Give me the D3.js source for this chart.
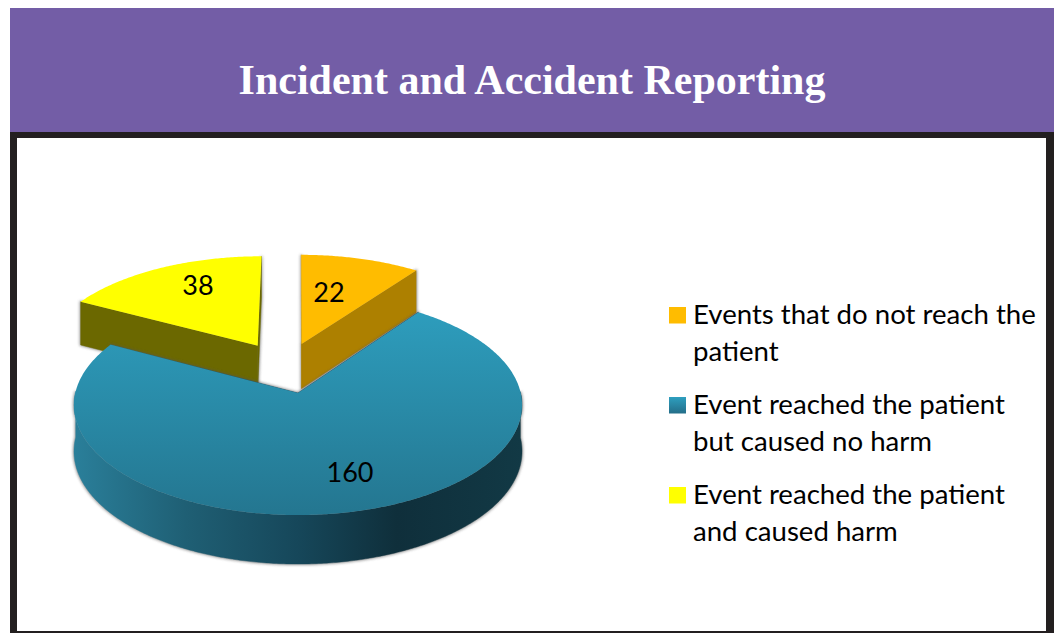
<!DOCTYPE html>
<html><head><meta charset="utf-8">
<script src="https://cdn.jsdelivr.net/npm/d3@7"></script>
<style>html,body{margin:0;padding:0;background:#fff}svg{display:block}</style>
</head><body><svg id="c" width="1057" height="633"></svg>
<script>
const titleText = "Incident and Accident Reporting";
const categories = ["Events that do not reach the patient","Event reached the patient but caused no harm","Event reached the patient and caused harm"];
const legendLines = [["Events that do not reach the","patient"],["Event reached the patient","but caused no harm"],["Event reached the patient","and caused harm"]];
const values = [22,160,38];
const topColors = ["#FFBC00","url(#blueTop)","#FFFF00"];
const sideColors = ["#AD8000","url(#blueSide)","#6B6800"];
const legendColors = ["#FFBC00","url(#blueLegend)","#FFFF00"];
const explodeU = [0.017,0,-0.19];
const explodeV = [-0.475,0,-0.457];
const labelPos = [[329,293],[350,473],[198,286]];

const svg = d3.select("#c");
const defs = svg.append("defs");
function grad(id,x1,y1,x2,y2,stops){
  const g=defs.append("linearGradient").attr("id",id).attr("gradientUnits","userSpaceOnUse")
    .attr("x1",x1).attr("y1",y1).attr("x2",x2).attr("y2",y2);
  stops.forEach(s=>g.append("stop").attr("offset",s[0]).attr("stop-color",s[1]));
}
grad("blueTop",0,300,0,515,[[0,"#2E9FBF"],[1,"#247690"]]);
grad("blueSide",74,0,522,0,[[0,"#2A7F9A"],[0.25,"#1F5F74"],[0.5,"#16475A"],[0.72,"#0F2F3B"],[1,"#123945"]]);
grad("blueLegend",0,397,0,413,[[0,"#2E9FBF"],[1,"#246F8A"]]);
const softF=defs.append("filter").attr("id","soft").attr("x","-5%").attr("y","-5%").attr("width","110%").attr("height","110%");
softF.append("feGaussianBlur").attr("stdDeviation",1.8);

// frame
svg.append("rect").attr("x",10).attr("y",8).attr("width",1044).attr("height",124).attr("fill","#735DA6");
svg.append("rect").attr("x",10).attr("y",132).attr("width",1044).attr("height",501).attr("fill","#231F20");
svg.append("rect").attr("x",17).attr("y",138).attr("width",1029).attr("height",493).attr("fill","#fff");
svg.append("text").attr("x",532).attr("y",94).attr("text-anchor","middle").attr("fill","#fff")
  .attr("font-family","'Liberation Serif',serif").attr("font-weight","bold").attr("font-size",42).text(titleText);

// perspective projection of the unit disc onto the screen
const K=-0.109,A=222.7,B=65.9,CX=298,CY=393;
const proj=(u,v)=>{const w=1+K*v;return [CX+A*u/w,(CY+B*v)/w];};
const depth=v=>46+3*v;
const pt=(ang,r,du,dv)=>[r*Math.sin(ang)+du,-r*Math.cos(ang)+dv];
const topPt=(p)=>proj(p[0],p[1]);
const botPt=(p)=>{const q=proj(p[0],p[1]);return [q[0],q[1]+depth(p[1])];};
const line=d3.line();
const arcs=d3.pie().sort(null).startAngle(0).endAngle(2*Math.PI)(values);
const arcPts=(a0,a1,du,dv)=>{const n=Math.max(2,Math.ceil(Math.abs(a1-a0)/0.01));
  return d3.range(n+1).map(i=>pt(a0+(a1-a0)*i/n,1,du,dv));};

const layers=svg.append("g");
const slices=arcs.map((a,i)=>{const du=explodeU[i],dv=explodeV[i];
  return {i,a,du,dv,apex:[du,dv],rim:arcPts(a.startAngle,a.endAngle,du,dv)};});

function drawSlice(s){
  const g=layers.append("g");
  const pA=s.apex, r=s.rim, first=r[0], last=r[r.length-1];
  const faces=[];
  // radial side faces
  [first,last].forEach(e=>faces.push([topPt(pA),topPt(e),botPt(e),botPt(pA)]));
  // outer wall: front half only
  const wall=r.filter(p=>p[1]>=-0.02);
  if(wall.length>1) faces.push(wall.map(topPt).concat(wall.slice().reverse().map(botPt)));
  const topFace=[topPt(pA)].concat(r.map(topPt));
  // soft shadow
  const silhouette=g.append("g").attr("filter","url(#soft)").attr("opacity",0.7);
  faces.forEach(fc=>silhouette.append("path").attr("d",line(fc)+"Z").attr("fill","#555").attr("stroke","#555").attr("stroke-width",1.6));
  faces.forEach(fc=>g.append("path").attr("d",line(fc)+"Z").attr("fill",sideColors[s.i]).attr("stroke",sideColors[s.i]).attr("stroke-width",0.4));
  g.append("path").attr("d",line(topFace)+"Z").attr("fill",topColors[s.i]);
}
[slices[2],slices[0],slices[1]].forEach(drawSlice);

// data labels
svg.append("g").selectAll("text").data(values).join("text")
  .attr("x",(d,i)=>labelPos[i][0]).attr("y",(d,i)=>labelPos[i][1]+9).attr("text-anchor","middle")
  .attr("font-family","Lato,'Open Sans',sans-serif").attr("font-size",27).attr("fill","#000").text(d=>d);

// legend
const legY=[307,397,487];
const lg=svg.append("g").selectAll("g").data(categories).join("g");
lg.append("rect").attr("x",669).attr("y",(d,i)=>legY[i]).attr("width",17).attr("height",16.5).attr("fill",(d,i)=>legendColors[i]);
lg.each(function(d,i){
  d3.select(this).selectAll("text").data(legendLines[i]).join("text")
    .attr("x",693).attr("y",(t,j)=>legY[i]+17+j*36.5)
    .attr("font-family","Lato,'Open Sans',sans-serif").attr("font-size",27.6).attr("fill","#000").text(t=>t);
});
</script></body></html>
